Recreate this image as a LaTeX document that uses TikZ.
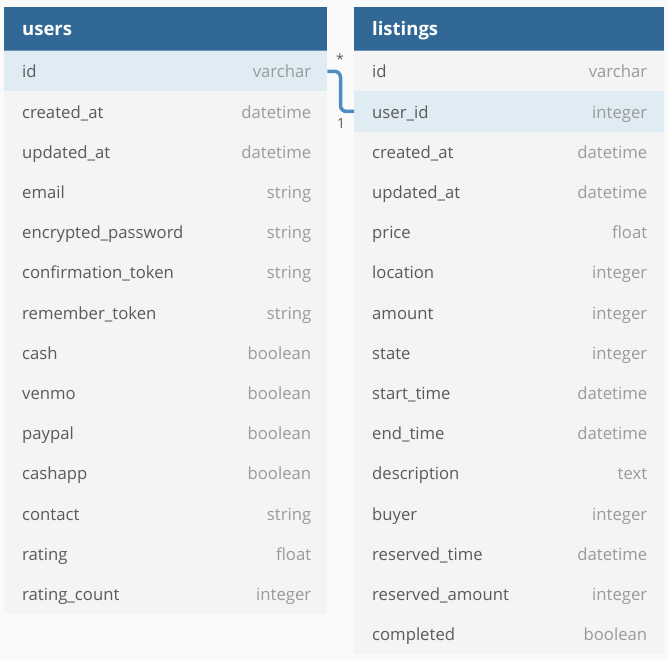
\documentclass[tikz,border=0pt]{standalone}
\usepackage{fontspec}
\setmainfont{Open Sans}
\definecolor{bgc}{HTML}{FAFAFA}
\definecolor{rowc}{HTML}{F4F4F4}
\definecolor{hic}{HTML}{DFECF4}
\definecolor{headc}{HTML}{316896}
\definecolor{headline}{HTML}{6A93B8}
\definecolor{namec}{HTML}{5A5A5A}
\definecolor{typec}{HTML}{9A9A9A}
\definecolor{linkc}{HTML}{4F8CC4}
\begin{document}
\begin{tikzpicture}[x=1pt,y=-1pt,
  rowbox/.style={fill=rowc, draw=none, inner sep=0pt, anchor=north west, minimum height=40.2pt},
  hirow/.style={rowbox, fill=hic},
  headbox/.style={fill=headc, draw=none, inner sep=0pt, anchor=north west, minimum height=44pt},
  headtext/.style={text=white, font=\fontsize{18.5}{18.5}\selectfont\bfseries, anchor=mid west, inner sep=0pt, yshift=-4pt},
  fname/.style={text=namec, font=\fontsize{16.7}{16.7}\selectfont, anchor=mid west, inner sep=0pt, yshift=-4pt},
  ftype/.style={text=typec, font=\fontsize{16.7}{16.7}\selectfont, anchor=mid east, inner sep=0pt, yshift=-4pt},
  card/.style={text=namec, font=\fontsize{14}{14}\selectfont, inner sep=0pt},
  link/.style={draw=linkc, line width=3.5pt, rounded corners=6pt}
]
\fill[bgc] (0,0) rectangle (668,660);
\useasboundingbox (0,0) rectangle (668,660);

% users table
\node[headbox, minimum width=323pt] (uh) at (4,7) {};
\node[headtext] (uht) at (22,29) {users};
\draw[headline, line width=0.8pt] (4,50.6) -- (327,50.6);
\foreach [count=\i] \n/\t/\s in {id/varchar/hirow, created\_at/datetime/rowbox, updated\_at/datetime/rowbox, email/string/rowbox, encrypted\_password/string/rowbox, confirmation\_token/string/rowbox, remember\_token/string/rowbox, cash/boolean/rowbox, venmo/boolean/rowbox, paypal/boolean/rowbox, cashapp/boolean/rowbox, contact/string/rowbox, rating/float/rowbox, rating\_count/integer/rowbox}{
  \node[\s, minimum width=323pt] (u\i) at (4,{51+(\i-1)*40.2}) {};
  \node[fname] (un\i) at ([xshift=18pt]u\i.west) {\n};
  \node[ftype] (ut\i) at ([xshift=-16pt]u\i.east) {\t};
}

% listings table
\node[headbox, minimum width=310pt] (lh) at (354,7) {};
\node[headtext] (lht) at (372,29) {listings};
\draw[headline, line width=0.8pt] (354,50.6) -- (664,50.6);
\foreach [count=\i] \n/\t/\s in {id/varchar/rowbox, user\_id/integer/hirow, created\_at/datetime/rowbox, updated\_at/datetime/rowbox, price/float/rowbox, location/integer/rowbox, amount/integer/rowbox, state/integer/rowbox, start\_time/datetime/rowbox, end\_time/datetime/rowbox, description/text/rowbox, buyer/integer/rowbox, reserved\_time/datetime/rowbox, reserved\_amount/integer/rowbox, completed/boolean/rowbox}{
  \node[\s, minimum width=310pt] (l\i) at (354,{51+(\i-1)*40.2}) {};
  \node[fname] (ln\i) at ([xshift=18pt]l\i.west) {\n};
  \node[ftype] (lt\i) at ([xshift=-17pt]l\i.east) {\t};
}

% relation
\coordinate (bend) at (340.5,0);
\draw[link] (u1.east) -- (u1.east -| bend) -- (l2.west -| bend) -- (l2.west);
\node[card] (many) at (340,59) {*};
\node[card] (one) at (341,124) {1};
\end{tikzpicture}
\end{document}
